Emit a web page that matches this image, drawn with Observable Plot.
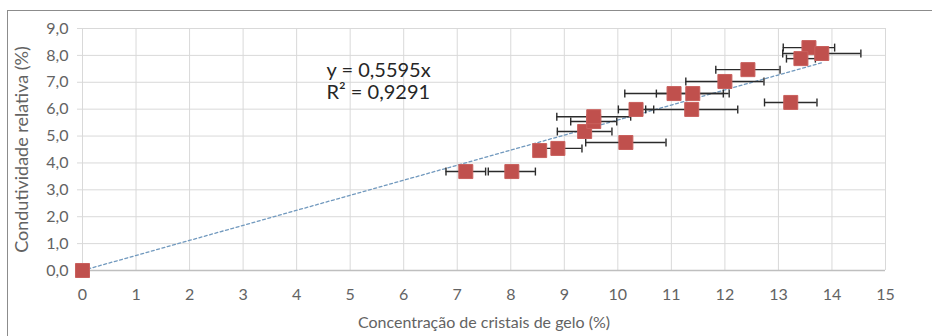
<!DOCTYPE html>
<html><head><meta charset="utf-8">
<script src="https://cdn.jsdelivr.net/npm/d3@7"></script>
<script src="https://cdn.jsdelivr.net/npm/@observablehq/plot@0.6"></script>
<style>
body{margin:0;background:#fff;}
#wrap{position:relative;width:932px;height:336px;overflow:hidden;background:#fff;}
#border{position:absolute;left:7px;top:10px;width:1000px;height:400px;border:1px solid #8c8c8c;box-sizing:border-box;pointer-events:none;}
</style></head><body><div id="wrap"><div id="chart"></div><div id="border"></div></div>
<script>
const concentracao = [0, 7.16, 8.02, 8.54, 8.88, 10.15, 9.38, 9.55, 9.55, 10.34, 11.38, 11.05, 11.40, 12.00, 12.43, 13.23, 13.57, 13.42, 13.81];
const condutividade = [0, 3.68, 3.68, 4.46, 4.54, 4.76, 5.17, 5.54, 5.72, 5.99, 5.99, 6.58, 6.58, 7.03, 7.47, 6.25, 8.29, 7.88, 8.07];
const erroX = [0, 0.37, 0.44, 0.10, 0.45, 0.75, 0.51, 0.43, 0.69, 0.33, 0.86, 0.92, 0.68, 0.73, 0.60, 0.49, 0.48, 0.27, 0.73];
const xTicks = d3.range(0, 16);
const yTicks = d3.range(0, 10);
const slope = 0.5595;
const equationLines = ["y = 0,5595x", "R² = 0,9291"];
const xTitle = "Concentração de cristais de gelo (%)";
const yTitle = "Condutividade relativa (%)";

const pts = concentracao.map((x, i) => ({x, y: condutividade[i], e: erroX[i]}));
const xMax = d3.max(concentracao);
const trend = [{x: 0, y: 0}, {x: xMax, y: slope * xMax}];
const capSymbol = {draw(ctx, size) { const h = Math.sqrt(size) / 2; ctx.moveTo(0, -h); ctx.lineTo(0, h); }};
const fmtY = d => d.toFixed(1).replace(".", ",");

const chart = Plot.plot({
  width: 932, height: 336,
  marginLeft: 82, marginRight: 47, marginTop: 28, marginBottom: 66,
  style: {fontFamily: "Lato, sans-serif", fontSize: "16px", color: "#595959", background: "transparent", overflow: "visible"},
  x: {domain: [0, 15], label: null},
  y: {domain: [0, 9], label: null},
  marks: [
    Plot.gridX(xTicks, {stroke: "#d9d9d9", strokeOpacity: 1}),
    Plot.gridY(yTicks, {stroke: "#d9d9d9", strokeOpacity: 1, insetLeft: -5}),
    Plot.ruleY([0], {stroke: "#bfbfbf", strokeWidth: 1.3}),
    Plot.axisX({ticks: xTicks, tickSize: 0, tickPadding: 18, tickFormat: d => d, label: null, fill: "#636363"}),
    Plot.axisY({ticks: yTicks, tickSize: 0, tickPadding: 14, tickFormat: fmtY, label: null, fill: "#636363"}),
    Plot.line(trend, {x: "x", y: "y", stroke: "#7199be", strokeDasharray: "3,2.5", strokeWidth: 1.3}),
    Plot.ruleY(pts.filter(d => d.e > 0), {y: "y", x1: d => d.x - d.e, x2: d => d.x + d.e, stroke: "#2b2b2b", strokeWidth: 1.4}),
    Plot.dot(pts.filter(d => d.e > 0), {x: d => d.x - d.e, y: "y", symbol: capSymbol, r: 4.5, stroke: "#2b2b2b", strokeWidth: 1.4}),
    Plot.dot(pts.filter(d => d.e > 0), {x: d => d.x + d.e, y: "y", symbol: capSymbol, r: 4.5, stroke: "#2b2b2b", strokeWidth: 1.4}),
    Plot.dot(pts, {x: "x", y: "y", symbol: "square", r: 7.9, fill: "#c0504d", stroke: "#c9605d", strokeWidth: 1}),
    Plot.text([equationLines.join("\n")], {frameAnchor: "top-left", dx: 244, dy: 33, textAnchor: "start", lineAnchor: "top", fontSize: 20, lineHeight: 1.1, fill: "#262626"}),
    Plot.text([xTitle], {frameAnchor: "bottom", dy: 52, lineAnchor: "middle", fontSize: 16, fill: "#636363"}),
    Plot.text([yTitle], {frameAnchor: "left", dx: -60, rotate: -90, textAnchor: "middle", lineAnchor: "middle", fontSize: 18, fill: "#636363"})
  ]
});
document.getElementById("chart").appendChild(chart);
</script>
</body></html>
